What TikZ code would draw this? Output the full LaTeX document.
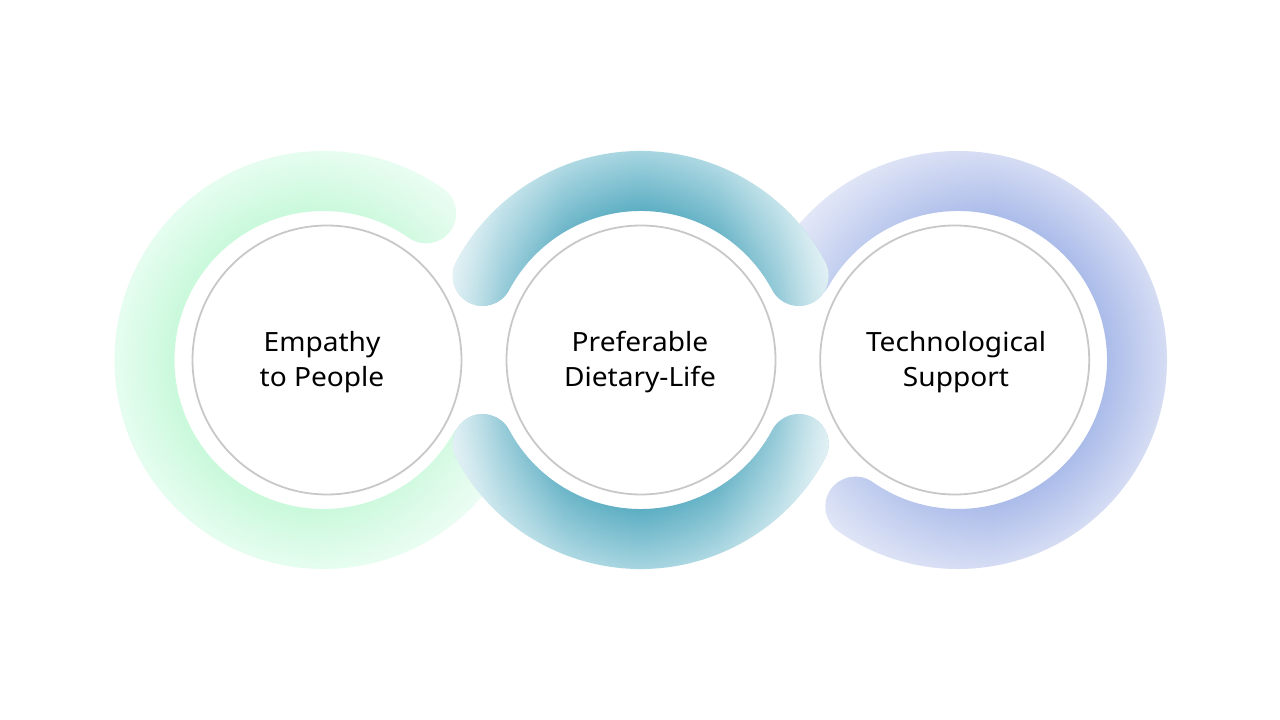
\documentclass[tikz,border=0pt]{standalone}
\usepackage{fontspec}
\setmainfont{Noto Sans}[FakeStretch=1.06]
\usetikzlibrary{fadings}
\definecolor{gD}{HTML}{C9F9DB}
\definecolor{gL}{HTML}{E6FDF0}
\definecolor{tD}{HTML}{5CAEC3}
\definecolor{tL}{HTML}{A8D6E1}
\definecolor{pD}{HTML}{ABBCEA}
\definecolor{pL}{HTML}{D6DDF4}
\definecolor{ringgray}{HTML}{C8C8C8}

\pgfdeclareradialshading{greenring}{\pgfpointorigin}{color(0bp)=(gD); color(17.7bp)=(gD); color(25bp)=(gL); color(50bp)=(gL)}
\pgfdeclareradialshading{tealring}{\pgfpointorigin}{color(0bp)=(tD); color(17.7bp)=(tD); color(25bp)=(tL); color(50bp)=(tL)}
\pgfdeclareradialshading{purpring}{\pgfpointorigin}{color(0bp)=(pD); color(17.7bp)=(pD); color(25bp)=(pL); color(50bp)=(pL)}

\pgfdeclarehorizontalshading{tealfadesh}{100bp}{color(0bp)=(white!72!black); color(25bp)=(white!72!black); color(32bp)=(white!35!black); color(40bp)=(white!10!black); color(50bp)=(black); color(60bp)=(white!10!black); color(68bp)=(white!35!black); color(75bp)=(white!72!black); color(100bp)=(white!72!black)}
\pgfdeclarehorizontalshading{greenfadesh}{100bp}{color(0bp)=(black); color(25bp)=(black); color(50bp)=(black); color(75bp)=(white!32!black); color(100bp)=(white!32!black)}
\pgfdeclarehorizontalshading{purpfadesh}{100bp}{color(0bp)=(white!40!black); color(25bp)=(white!40!black); color(52bp)=(black); color(75bp)=(black); color(100bp)=(black)}

\begin{tikzfadingfrompicture}[name=tealfade]
\shade[shading=tealfadesh] (-25bp,-25bp) rectangle (25bp,25bp);
\end{tikzfadingfrompicture}
\begin{tikzfadingfrompicture}[name=greenfade]
\shade[shading=greenfadesh] (-25bp,-25bp) rectangle (25bp,25bp);
\end{tikzfadingfrompicture}
\begin{tikzfadingfrompicture}[name=purpfade]
\shade[shading=purpfadesh] (-25bp,-25bp) rectangle (25bp,25bp);
\end{tikzfadingfrompicture}

% band outline: centre x, centre y, start angle, end angle (counter-clockwise)
\newcommand\bandpath[4]{([shift={(#3:209)}]#1,#2) arc[start angle=#3, end angle=#4, radius=209] arc[start angle=#4, end angle={#4+180}, radius=30] arc[start angle=#4, end angle=#3, radius=149] arc[start angle={#3+180}, end angle={#3+360}, radius=30] -- cycle}

\newcommand\shadedband[6]{% cx, cy, a1, a2, shading, fading
  \begin{scope}
    \clip \bandpath{#1}{#2}{#3}{#4};
    \shade[shading=#5] (#1,#2) circle (210);
  \end{scope}
  \fill[white, path fading=#6] \bandpath{#1}{#2}{#3}{#4};
}

\tikzset{
  disc/.style={circle, draw=ringgray, line width=1.8pt, fill=white, inner sep=0pt, minimum size=269pt},
  caption/.style={align=center, text=black, font=\fontsize{26.5}{35.6}\selectfont, inner sep=0pt}
}

\begin{document}
\begin{tikzpicture}[x=1pt, y=1pt]
\useasboundingbox[fill=white] (0,0) rectangle (1280,720);

% rings
\shadedband{323.5}{360}{55}{330}{greenring}{greenfade}
\shadedband{958}{360}{235}{510}{purpring}{purpfade}
\shadedband{640.7}{360}{28}{152}{tealring}{tealfade}
\shadedband{640.7}{360}{208}{332}{tealring}{tealfade}

% discs
\node[disc] (c1) at (327,360) {};
\node[disc] (c2) at (641,360) {};
\node[disc] (c3) at (954.7,360) {};

% captions
\node[caption] (t1) at (322,358) {Empathy\\to People};
\node[caption] (t2) at (640,358) {Preferable\\Dietary-Life};
\node[caption] (t3) at (956,358) {Technological\\Support};
\end{tikzpicture}
\end{document}
